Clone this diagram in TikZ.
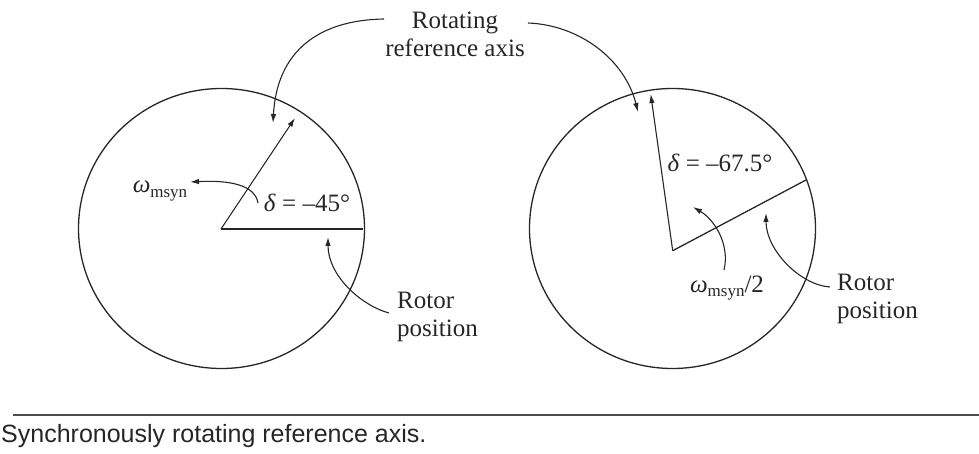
\documentclass[tikz,border=0pt]{standalone}
\usepackage{fontspec}
\setmainfont{Liberation Serif}
\setsansfont{Liberation Sans}
\usetikzlibrary{arrows.meta, positioning}

\newcommand{\wsyn}{{\itshape ω}\raisebox{-0.4ex}{\fontsize{17}{17}\selectfont msyn}}

\begin{document}
\begin{tikzpicture}[
    x=1pt, y=-1pt,
    line/.style={draw=black!85, line width=1.3pt},
    arrow/.style={-{Latex[length=9pt, width=5.5pt]}, draw=black!85, line width=1.1pt},
    lbl/.style={text=black!85, inner sep=0pt, font=\fontsize{25}{28}\selectfont, align=left}
]
\useasboundingbox (0,0) rectangle (979,454);

% Label shared by both pictures
\node[lbl, align=center] (axislbl) at (455,34) {Rotating\\reference axis};
\coordinate (axL) at (384,19);
\coordinate (axR) at (528,23);

% Left disc
\coordinate (cL) at (221.5,228.5);
\draw[line] (cL) ellipse [x radius=143, y radius=140];
\coordinate (oL) at (221,229);
\coordinate (rimL) at (363,229);
\coordinate (refL) at (295,118);
\draw[line] (oL) -- (rimL);
\draw[arrow] (oL) -- (refL);
\node[lbl] (deltaL) at (307,203) {\textit{δ} = –45°};
\node[lbl] (omegaL) at (160,191) {\wsyn};
\node[lbl, anchor=west] (rotorL) at (397,317) {Rotor\\position};
\coordinate (tipaL) at (273,123);
\coordinate (tipwL) at (190,182);
\coordinate (tiprL) at (328,237);
\coordinate (stwL) at (258,203);
\coordinate (strL) at (389,313);
\draw[arrow] (axL) .. controls (320,20) and (277,50) .. (tipaL);
\draw[arrow] (stwL) .. controls (255,185) and (230,180) .. (tipwL);
\draw[arrow] (strL) .. controls (360,305) and (328,275) .. (tiprL);

% Right disc
\coordinate (cR) at (672.5,228.5);
\draw[line] (cR) ellipse [x radius=143, y radius=140];
\coordinate (oR) at (672.7,250.7);
\coordinate (rimR) at (806,180);
\coordinate (refR) at (650.7,94);
\draw[line] (oR) -- (rimR);
\draw[arrow] (oR) -- (refR);
\node[lbl] (deltaR) at (720,163) {\textit{δ} = –67.5°};
\node[lbl] (omegaR) at (727,288) {\wsyn/2};
\node[lbl, anchor=west] (rotorR) at (837,299) {Rotor\\position};
\coordinate (tipaR) at (638,112);
\coordinate (tipwR) at (693,207);
\coordinate (tiprR) at (766,213);
\coordinate (stwR) at (724,270);
\coordinate (strR) at (830,287);
\draw[arrow] (axR) .. controls (580,25) and (625,60) .. (tipaR);
\draw[arrow] (stwR) .. controls (730,245) and (715,220) .. (tipwR);
\draw[arrow] (strR) .. controls (800,285) and (766,250) .. (tiprR);

% Caption
\coordinate (ruleA) at (13,415);
\coordinate (ruleB) at (979,415);
\draw[draw=black!70, line width=2pt] (ruleA) -- (ruleB);
\node[lbl, anchor=base west, font=\sffamily\fontsize{25}{28}\selectfont] (caption) at (1,442) {Synchronously rotating reference axis.};
\end{tikzpicture}
\end{document}
